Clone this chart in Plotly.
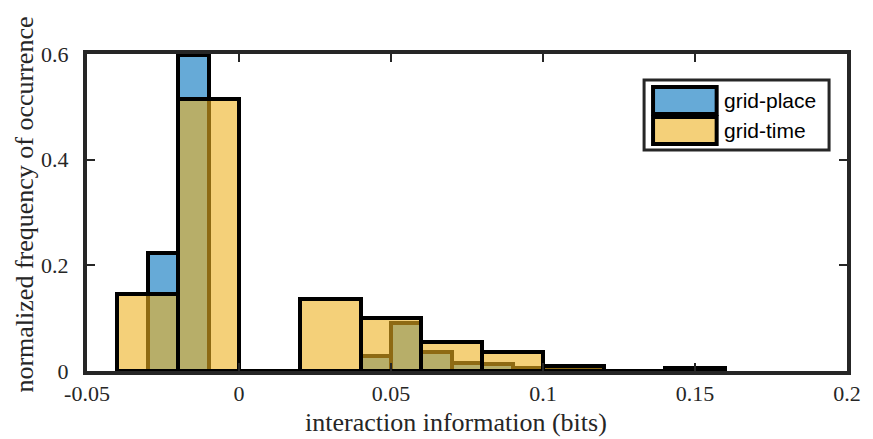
import plotly.graph_objects as go

# Histogram bins (left edges) and normalized counts
place_edges = [-0.04, -0.03, -0.02, -0.01, 0.00, 0.01, 0.02, 0.03, 0.04, 0.05,
               0.06, 0.07, 0.08, 0.09, 0.10, 0.11, 0.14]
place_freq = [0.0, 0.224, 0.598, 0.0, 0.0, 0.0, 0.0, 0.0, 0.028, 0.09,
              0.036, 0.015, 0.013, 0.005, 0.002, 0.001, 0.003]
place_width = 0.01

time_edges = [-0.04, -0.02, 0.00, 0.02, 0.04, 0.06, 0.08, 0.10, 0.12, 0.14]
time_freq = [0.145, 0.515, 0.0, 0.137, 0.10, 0.055, 0.036, 0.009, 0.0, 0.005]
time_width = 0.02

x_ticks = [-0.05, 0, 0.05, 0.1, 0.15, 0.2]
x_ticklabels = ["-0.05", "0", "0.05", "0.1", "0.15", "0.2"]
y_ticks = [0, 0.2, 0.4, 0.6]
y_ticklabels = ["0", "0.2", "0.4", "0.6"]

series_names = ["grid-place", "grid-time"]
fill_rgba = ["rgba(0,114,189,0.6)", "rgba(237,177,32,0.6)"]
swatch_colors = ["#66AAD7", "#F4D079"]

x_title = "interaction information (bits)"
y_title = "normalized frequency of occurrence"

AX = "#262626"
SERIF = "Liberation Serif, DejaVu Serif, serif"

fig = go.Figure()
fig.add_trace(go.Bar(
    x=[e + place_width / 2 for e in place_edges], y=place_freq,
    width=place_width, name=series_names[0],
    marker=dict(color=fill_rgba[0], line=dict(color="black", width=4)),
    showlegend=False,
))
fig.add_trace(go.Bar(
    x=[e + time_width / 2 for e in time_edges], y=time_freq,
    width=time_width, name=series_names[1],
    marker=dict(color=fill_rgba[1], line=dict(color="black", width=4)),
    showlegend=False,
))

# Boxed legend in the upper right of the axes
L = dict(x0=0.733, x1=0.9764, y0=0.697, y1=0.918)
shapes = [dict(type="rect", xref="paper", yref="paper", **L,
               line=dict(color=AX, width=3), fillcolor="white", layer="above")]
rows = [(0.8959, 0.8107), (0.8013, 0.7161)]
annotations = []
for (ytop, ybot), col, name in zip(rows, swatch_colors, series_names):
    shapes.append(dict(type="rect", xref="paper", yref="paper",
                       x0=0.7448, x1=0.8285, y0=ybot, y1=ytop,
                       line=dict(color="black", width=4), fillcolor=col,
                       layer="above"))
    annotations.append(dict(xref="paper", yref="paper", x=0.8351,
                            y=(ytop + ybot) / 2, text=name, showarrow=False,
                            xanchor="left", yanchor="middle",
                            font=dict(family="Liberation Sans, Arial, sans-serif",
                                      size=21, color="black")))

# Axis titles
annotations.append(dict(xref="paper", yref="paper", x=0.486, y=-0.163,
                        text=x_title, showarrow=False,
                        xanchor="center", yanchor="middle",
                        font=dict(family=SERIF, size=26, color=AX)))
annotations.append(dict(xref="paper", yref="paper", x=-0.082, y=0.524,
                        text=y_title, showarrow=False, textangle=-90,
                        xanchor="center", yanchor="middle",
                        font=dict(family=SERIF, size=26, color=AX)))

fig.update_layout(
    width=873, height=439,
    margin=dict(l=87, r=22, t=54, b=68),
    paper_bgcolor="white", plot_bgcolor="white",
    barmode="overlay", bargap=0,
    shapes=shapes, annotations=annotations,
    font=dict(family=SERIF, color=AX),
)
fig.update_xaxes(
    range=[-0.05, 0.2], tickvals=x_ticks, ticktext=x_ticklabels,
    ticks="inside", ticklen=8, tickwidth=2, tickcolor=AX,
    showline=True, linewidth=4, linecolor=AX, mirror="ticks",
    showgrid=False, zeroline=False, ticklabelstandoff=0,
    tickfont=dict(family=SERIF, size=22, color=AX),
)
fig.update_yaxes(
    range=[0, 0.6], tickvals=y_ticks, ticktext=y_ticklabels,
    ticks="inside", ticklen=8, tickwidth=2, tickcolor=AX,
    showline=True, linewidth=4, linecolor=AX, mirror="ticks",
    showgrid=False, zeroline=False, ticklabelstandoff=10,
    tickfont=dict(family=SERIF, size=22, color=AX),
)

fig.write_html("out.html")
